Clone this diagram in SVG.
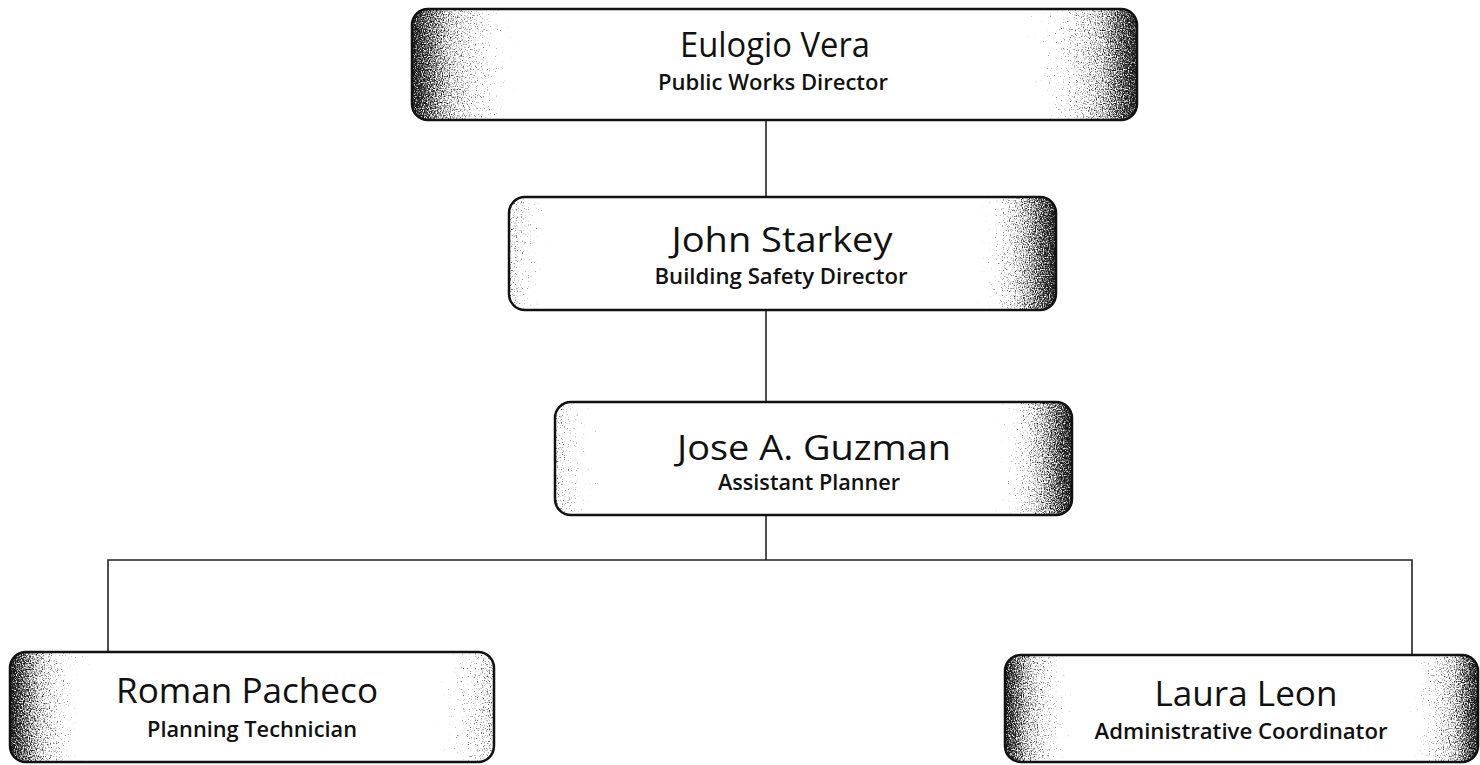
<svg xmlns="http://www.w3.org/2000/svg" width="1480" height="765" viewBox="0 0 1480 765">
<style>
.bg{fill:#fff}
.box{fill:none;stroke:#111;stroke-width:2.5}
.shade{filter:url(#stip)}
.name{font-family:"Open Sans",Lato,"Liberation Sans",sans-serif;fill:#111;text-anchor:middle;font-size:34px;font-weight:500}
.title{font-family:"Open Sans",Lato,"Liberation Sans",sans-serif;fill:#111;text-anchor:middle;font-size:21px;font-weight:600}
.conn{stroke:#222;stroke-width:1.6;fill:none}
</style>
<defs>
<filter id="stip" x="0" y="0" width="1" height="1" color-interpolation-filters="sRGB">
<feTurbulence type="fractalNoise" baseFrequency="0.85" numOctaves="2" seed="3" result="n"/>
<feColorMatrix in="n" type="matrix" values="0 0 0 0 0  0 0 0 0 0  0 0 0 0 0  1 0 0 0 0" result="na"/>
<feComposite in="SourceAlpha" in2="na" operator="arithmetic" k1="0" k2="3" k3="-3" k4="0" result="a"/>
<feColorMatrix in="a" type="matrix" values="0 0 0 0 0.1  0 0 0 0 0.1  0 0 0 0 0.1  0 0 0 1 0"/>
</filter>
<linearGradient id="both" x1="0" y1="0" x2="1" y2="0">
<stop offset="0" stop-color="#000" stop-opacity="0.85"/><stop offset="0.05" stop-color="#000" stop-opacity="0.55"/><stop offset="0.12" stop-color="#000" stop-opacity="0.3"/><stop offset="0.2" stop-color="#000" stop-opacity="0"/>
<stop offset="0.8" stop-color="#000" stop-opacity="0"/><stop offset="0.88" stop-color="#000" stop-opacity="0.3"/><stop offset="0.95" stop-color="#000" stop-opacity="0.55"/><stop offset="1" stop-color="#000" stop-opacity="0.85"/>
</linearGradient>
<linearGradient id="right" x1="0" y1="0" x2="1" y2="0">
<stop offset="0" stop-color="#000" stop-opacity="0.45"/><stop offset="0.05" stop-color="#000" stop-opacity="0.3"/><stop offset="0.14" stop-color="#000" stop-opacity="0"/>
<stop offset="0.8" stop-color="#000" stop-opacity="0"/><stop offset="0.88" stop-color="#000" stop-opacity="0.3"/><stop offset="0.95" stop-color="#000" stop-opacity="0.6"/><stop offset="1" stop-color="#000" stop-opacity="0.85"/>
</linearGradient>
<linearGradient id="left" x1="0" y1="0" x2="1" y2="0">
<stop offset="0" stop-color="#000" stop-opacity="0.85"/><stop offset="0.06" stop-color="#000" stop-opacity="0.55"/><stop offset="0.13" stop-color="#000" stop-opacity="0.3"/><stop offset="0.21" stop-color="#000" stop-opacity="0"/>
<stop offset="0.82" stop-color="#000" stop-opacity="0"/><stop offset="0.92" stop-color="#000" stop-opacity="0.3"/><stop offset="1" stop-color="#000" stop-opacity="0.5"/>
</linearGradient>
</defs>
<g id="connectors">
<line class="conn" x1="766" y1="120" x2="766" y2="197"/>
<line class="conn" x1="766" y1="310" x2="766" y2="402"/>
<line class="conn" x1="766" y1="515" x2="766" y2="560"/>
<polyline class="conn" points="108,652 108,560 1412,560 1412,655"/>
</g>
<g id="eulogio">
<rect class="bg" x="412" y="9" width="725" height="111" rx="16"/>
<rect class="shade" x="412" y="9" width="725" height="111" rx="16" fill="url(#both)"/>
<rect class="box" x="412" y="9" width="725" height="111" rx="16"/>
<text class="name" x="775" y="57" textLength="190" lengthAdjust="spacingAndGlyphs">Eulogio Vera</text>
<text class="title" x="773" y="90" textLength="230" lengthAdjust="spacingAndGlyphs">Public Works Director</text>
</g>
<g id="john">
<rect class="bg" x="509" y="197" width="547" height="113" rx="16"/>
<rect class="shade" x="509" y="197" width="547" height="113" rx="16" fill="url(#right)"/>
<rect class="box" x="509" y="197" width="547" height="113" rx="16"/>
<text class="name" x="782" y="252" textLength="221" lengthAdjust="spacingAndGlyphs">John Starkey</text>
<text class="title" x="781" y="284" textLength="253" lengthAdjust="spacingAndGlyphs">Building Safety Director</text>
</g>
<g id="jose">
<rect class="bg" x="555" y="402" width="517" height="113" rx="16"/>
<rect class="shade" x="555" y="402" width="517" height="113" rx="16" fill="url(#right)"/>
<rect class="box" x="555" y="402" width="517" height="113" rx="16"/>
<text class="name" x="814" y="460" textLength="274" lengthAdjust="spacingAndGlyphs">Jose A. Guzman</text>
<text class="title" x="809" y="490" textLength="182" lengthAdjust="spacingAndGlyphs">Assistant Planner</text>
</g>
<g id="roman">
<rect class="bg" x="10" y="652" width="484" height="110" rx="16"/>
<rect class="shade" x="10" y="652" width="484" height="110" rx="16" fill="url(#left)"/>
<rect class="box" x="10" y="652" width="484" height="110" rx="16"/>
<text class="name" x="247" y="703" textLength="262" lengthAdjust="spacingAndGlyphs">Roman Pacheco</text>
<text class="title" x="252" y="737" textLength="210" lengthAdjust="spacingAndGlyphs">Planning Technician</text>
</g>
<g id="laura">
<rect class="bg" x="1005" y="655" width="473" height="107" rx="16"/>
<rect class="shade" x="1005" y="655" width="473" height="107" rx="16" fill="url(#both)"/>
<rect class="box" x="1005" y="655" width="473" height="107" rx="16"/>
<text class="name" x="1246" y="706" textLength="183" lengthAdjust="spacingAndGlyphs">Laura Leon</text>
<text class="title" x="1241" y="739" textLength="293" lengthAdjust="spacingAndGlyphs">Administrative Coordinator</text>
</g>
</svg>
